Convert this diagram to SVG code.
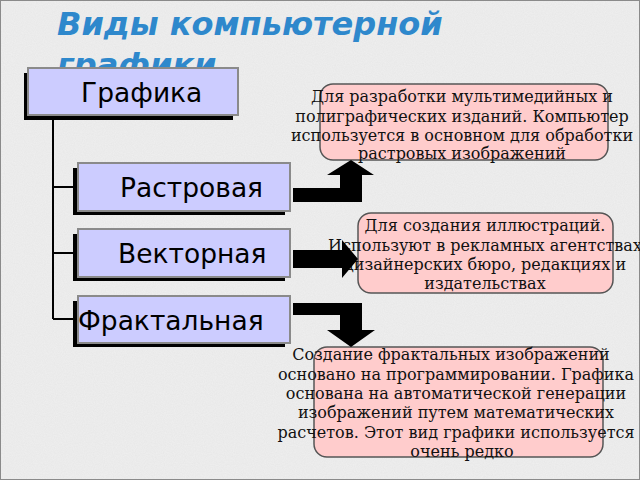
<svg xmlns="http://www.w3.org/2000/svg" width="640" height="480" viewBox="0 0 640 480">
<style>
.bg{fill:#efefef}
.title{font-family:"DejaVu Sans",sans-serif;font-weight:bold;font-style:italic;font-size:32px;fill:#2e88cc}
.shadow{fill:#000}
.box{fill:#ccccff;stroke:#8a8a8a;stroke-width:2}
.lbl{font-family:"DejaVu Sans",sans-serif;font-size:26.5px;fill:#000}
.note{fill:#ffcccc;stroke:#555;stroke-width:1.5}
.nt{font-family:"DejaVu Serif",serif;font-size:16px;fill:#111;text-anchor:middle}
.tree{fill:none;stroke:#000;stroke-width:2}
.arrow{fill:#000}
</style>
<defs>
<filter id="noise" x="0" y="0" width="100%" height="100%">
<feTurbulence type="fractalNoise" baseFrequency="0.9" numOctaves="2" seed="3" result="n"/>
<feColorMatrix in="n" type="matrix" values="0 0 0 0 0.6  0 0 0 0 0.6  0 0 0 0 0.6  0 0 0 0.25 0" result="g"/>
<feComposite in="g" in2="SourceGraphic" operator="over"/>
</filter>
</defs>
<rect class="bg" x="0" y="0" width="640" height="480" filter="url(#noise)"/>
<rect x="0.5" y="0.5" width="639" height="479" fill="none" stroke="#8a8a8a" stroke-width="1"/>
<g id="title">
<text class="title" x="57" y="35">Виды компьютерной</text>
<text class="title" x="57" y="76">графики</text>
</g>
<g id="tree-lines">
<path class="tree" d="M53 118 V319 M53 187 H74 M53 253 H74 M53 319 H74"/>
</g>
<g id="node-grafika">
<rect class="shadow" x="24" y="73" width="209" height="47"/>
<rect class="box" x="28" y="68" width="210" height="47"/>
<text class="lbl" x="81" y="102" font-size="28.5">Графика</text>
</g>
<g id="node-rastr">
<rect class="shadow" x="73" y="168" width="212" height="47"/>
<rect class="box" x="78" y="163" width="212" height="48"/>
<text class="lbl" x="120" y="197">Растровая</text>
</g>
<g id="node-vector">
<rect class="shadow" x="73" y="234" width="212" height="47"/>
<rect class="box" x="78" y="229" width="212" height="48"/>
<text class="lbl" x="118" y="263">Векторная</text>
</g>
<g id="node-fractal">
<rect class="shadow" x="73" y="301" width="212" height="46"/>
<rect class="box" x="78" y="296" width="212" height="47"/>
<text class="lbl" x="78" y="330">Фрактальная</text>
</g>
<g id="note-rastr">
<rect class="note" x="320" y="84" width="288" height="76" rx="13"/>
<text class="nt" x="462" y="102">Для разработки мультимедийных и</text>
<text class="nt" x="462" y="122">полиграфических изданий. Компьютер</text>
<text class="nt" x="462" y="141">используется в основном для обработки</text>
<text class="nt" x="462" y="159">растровых изображений</text>
</g>
<g id="note-vector">
<rect class="note" x="358" y="213" width="255" height="80" rx="13"/>
<text class="nt" x="485" y="231">Для создания иллюстраций.</text>
<text class="nt" x="485" y="251">Используют в рекламных агентствах</text>
<text class="nt" x="485" y="270">дизайнерских бюро, редакциях и</text>
<text class="nt" x="485" y="289">издательствах</text>
</g>
<g id="note-fractal">
<rect class="note" x="314" y="347" width="289" height="110" rx="13"/>
<text class="nt" x="451" y="360">Создание фрактальных изображений</text>
<text class="nt" x="456" y="380">основано на программировании. Графика</text>
<text class="nt" x="456" y="399">основана на автоматической генерации</text>
<text class="nt" x="456" y="418">изображений путем математических</text>
<text class="nt" x="456" y="438">расчетов. Этот вид графики используется</text>
<text class="nt" x="462" y="457">очень редко</text>
</g>
<g id="connectors">
<polygon class="arrow" points="293,188 340,188 340,175 327,175 351,160 374,175 362,175 362,202 293,202"/>
<polygon class="arrow" points="293,250 342,250 342,240 358,259 342,278 342,268 293,268"/>
<polygon class="arrow" points="293,303 362,303 362,330 375,330 351,347 327,330 340,330 340,315 293,315"/>
</g>
</svg>
